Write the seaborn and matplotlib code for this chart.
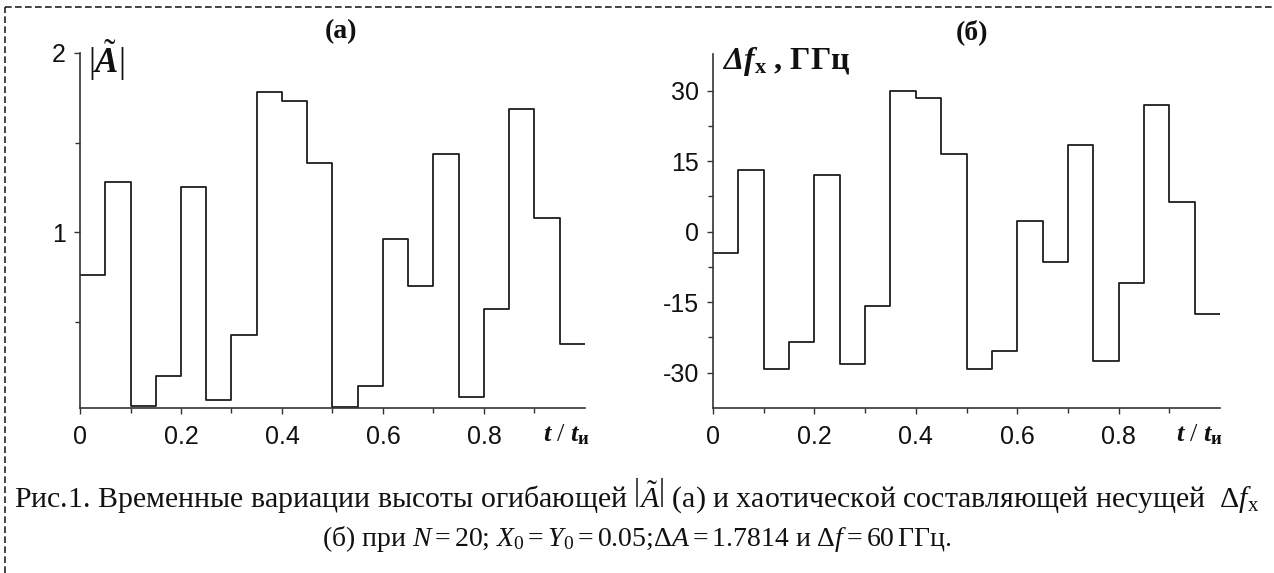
import matplotlib
matplotlib.use("Agg")
import matplotlib.pyplot as plt
import numpy as np
import pandas as pd
import seaborn as sns
from matplotlib.ticker import FixedLocator, NullFormatter
from matplotlib.lines import Line2D

# ---------------- data ----------------
t_start = [0.00, 0.05, 0.10, 0.15, 0.20, 0.25, 0.30, 0.35, 0.40, 0.45,
           0.50, 0.55, 0.60, 0.65, 0.70, 0.75, 0.80, 0.85, 0.90, 0.95]
t_end = 1.0
amp = [0.764, 1.28, 0.032, 0.199, 1.25, 0.062, 0.428, 1.78, 1.734, 1.385,
       0.023, 0.141, 0.96, 0.70, 1.435, 0.079, 0.572, 1.69, 1.08, 0.375]
dfx = [-4.5, 13.2, -29.2, -23.5, 12.1, -28.2, -15.9, 29.9, 28.5, 16.6,
       -29.3, -25.4, 2.3, -6.4, 18.4, -27.5, -10.9, 27.0, 6.4, -17.5]

x_ticks = [0.0, 0.2, 0.4, 0.6, 0.8]
x_tick_labels = ["0", "0.2", "0.4", "0.6", "0.8"]
x_minor = [0.1, 0.3, 0.5, 0.7, 0.9]
amp_ticks = [1, 2]
amp_tick_labels = ["1", "2"]
amp_minor = [0.5, 1.5]
dfx_ticks = [-30, -15, 0, 15, 30]
dfx_tick_labels = ["-30", "-15", "0", "15", "30"]
dfx_minor = [-22.5, -7.5, 7.5, 22.5]

# ---------------- style ----------------
sns.set_theme(style="white")
plt.rcParams["font.family"] = ["Liberation Sans", "DejaVu Sans"]
plt.rcParams["mathtext.fontset"] = "custom"
plt.rcParams["mathtext.rm"] = "Liberation Serif"
plt.rcParams["mathtext.it"] = "Liberation Serif:italic"
plt.rcParams["mathtext.bf"] = "Liberation Serif:bold"
try:
    plt.rcParams["mathtext.bfit"] = "Liberation Serif:italic:bold"
    HAS_BFIT = True
except Exception:
    HAS_BFIT = False

W, H = 1274, 573
fig = plt.figure(figsize=(W / 100, H / 100), dpi=100)
fig.patch.set_facecolor("white")


def px(x, y):
    return x / W, 1 - y / H


def make_axes(left, right, top, bottom):
    return fig.add_axes([left / W, 1 - bottom / H, (right - left) / W, (bottom - top) / H])


ax1 = make_axes(80, 585, 53, 408)
ax2 = make_axes(713, 1220, 54, 408)

line_col = "#1e1e1e"
axis_col = "#333333"


def step_df(vals):
    return pd.DataFrame({"t": t_start + [t_end], "v": vals + [vals[-1]]})


sns.lineplot(data=step_df(amp), x="t", y="v", ax=ax1, drawstyle="steps-post",
             color=line_col, linewidth=1.3, estimator=None)
sns.lineplot(data=step_df(dfx), x="t", y="v", ax=ax2, drawstyle="steps-post",
             color=line_col, linewidth=1.3, estimator=None)

ax1.set_xlim(0, 1.0)
ax1.set_ylim(0.02, 2.0)
ax2.set_xlim(0, 1.0)
ax2.set_ylim(-37.5, 37.8)

for ax, yt, ytl, ym in [(ax1, amp_ticks, amp_tick_labels, amp_minor),
                        (ax2, dfx_ticks, dfx_tick_labels, dfx_minor)]:
    ax.set_facecolor("white")
    ax.set_xlabel("")
    ax.set_ylabel("")
    ax.grid(False)
    for s in ["top", "right"]:
        ax.spines[s].set_visible(False)
    for s in ["left", "bottom"]:
        ax.spines[s].set_color(axis_col)
        ax.spines[s].set_linewidth(1.2)
    ax.xaxis.set_major_locator(FixedLocator(x_ticks))
    ax.set_xticklabels(x_tick_labels)
    ax.xaxis.set_minor_locator(FixedLocator(x_minor))
    ax.yaxis.set_major_locator(FixedLocator(yt))
    ax.set_yticklabels(ytl)
    ax.yaxis.set_minor_locator(FixedLocator(ym))
    ax.xaxis.set_minor_formatter(NullFormatter())
    ax.yaxis.set_minor_formatter(NullFormatter())
    ax.tick_params(axis="both", which="major", direction="out", length=4, width=1.0,
                   color=axis_col, labelsize=18, labelcolor="#111111", pad=6,
                   bottom=True, left=True)
    ax.tick_params(axis="both", which="minor", direction="out", length=3.5, width=1.0,
                   color=axis_col, bottom=True, left=True)
    ax.tick_params(axis="x", which="major", pad=8)

serif_bold = dict(family=["Liberation Serif", "DejaVu Serif"], weight="bold", color="#111111")

# panel titles
fig.text(*px(341, 32), "(a)", ha="center", va="center", fontsize=20, **serif_bold)
fig.text(*px(972, 32), "(б)", ha="center", va="center", fontsize=20, **serif_bold)

# axis labels
if HAS_BFIT:
    lab_a = r"$|\tilde{\mathbfit{A}}|$"
    lab_b = r"$\mathbfit{\Delta f}_{\mathbf{x}}$" + " , ГГц"
    lab_t = r"$\mathbfit{t}\ /\ \mathbfit{t}_{\mathbf{и}}$"
else:
    lab_a = r"$|\tilde{A}|$"
    lab_b = r"$\Delta f_{x}$" + " , ГГц"
    lab_t = r"$t\ /\ t_{и}$"

fig.text(*px(88, 60), lab_a, ha="left", va="center", fontsize=25, **serif_bold)
fig.text(*px(722, 62), lab_b, ha="left", va="center", fontsize=23, **serif_bold)
fig.text(*px(543, 435), lab_t, ha="left", va="center", fontsize=19, **serif_bold)
fig.text(*px(1176, 435), lab_t, ha="left", va="center", fontsize=19, **serif_bold)

# caption
cap_font = ["Liberation Serif", "DejaVu Serif"]
line1 = ("Рис.1. Временные вариации высоты огибающей $\\left|\\tilde{A}\\right|$ (а) "
         "и хаотической составляющей несущей  $\\Delta f_{\\mathrm{x}}$")
line2 = ("(б) при $N=20$; $X_0=Y_0=0.05$;$\\Delta A=1.7814$ и "
         "$\\Delta f=60\\,$ГГц.")
fig.text(*px(637, 507), line1, ha="center", va="baseline", family=cap_font,
         color="#111111", fontsize=21.5)
fig.text(*px(637, 546), line2, ha="center", va="baseline", family=cap_font,
         color="#111111", fontsize=20)

# dashed frame (left and top)
fig.add_artist(Line2D([5 / W, 5 / W], [0, 1 - 7 / H], transform=fig.transFigure,
                      color="#222222", linewidth=1.2, linestyle=(0, (4, 2))))
fig.add_artist(Line2D([5 / W, 1273 / W], [1 - 7 / H, 1 - 7 / H], transform=fig.transFigure,
                      color="#222222", linewidth=1.2, linestyle=(0, (4, 2))))

fig.savefig("out.png", dpi=100, facecolor="white")
